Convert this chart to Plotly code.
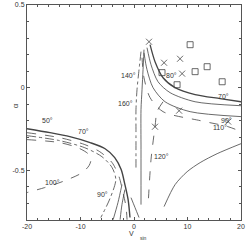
import plotly.graph_objects as go

# ---- data ----
c50_x = [-20, -15.7, -12.0, -8.2, -5.4, -3.6, -2.4, -1.7, -1.1, -0.75]
c50_y = [-0.248, -0.272, -0.296, -0.332, -0.369, -0.423, -0.495, -0.586, -0.677, -0.785]
c70_x = [-20, -13.9, -9.2, -6.4, -4.1, -2.8, -2.1, -1.5, -1.3]
c70_y = [-0.272, -0.302, -0.344, -0.387, -0.453, -0.538, -0.628, -0.719, -0.798]
c90_x = [-20, -13.9, -9.2, -6.0, -4.1, -3.4, -4.5, -6.2]
c90_y = [-0.29, -0.32, -0.363, -0.417, -0.483, -0.556, -0.671, -0.785]
c100_x = [-20, -13.9, -10.5, -8.6, -8.05, -8.4, -9.7, -12.9, -16.7, -20]
c100_y = [-0.314, -0.332, -0.363, -0.399, -0.435, -0.471, -0.514, -0.562, -0.604, -0.634]
c60_x = [-2.25, -3.0, -3.9]
c60_y = [-0.586, -0.695, -0.798]
c40_x = [-1.7, -2.25, -2.6]
c40_y = [-0.616, -0.707, -0.798]
c20_x = [-0.56, 0.19, 0.94]
c20_y = [-0.665, -0.725, -0.785]
c160_x = [1.31, 0.94, 0.56, 0.37, 0.37, 0.37]
c160_y = [0.218, 0.109, -0.012, -0.133, -0.254, -0.483]
c140_x = [1.87, 1.69, 1.5, 1.31, 1.31, 1.31]
c140_y = [0.23, 0.109, -0.012, -0.133, -0.375, -0.707]
r70_x = [3.0, 3.93, 5.43, 7.68, 11.42, 16.1, 20.04]
r70_y = [0.26, 0.157, 0.06, 0.0, -0.042, -0.066, -0.085]
r80_x = [2.43, 3.18, 4.49, 6.74, 11.42, 20.04]
r80_y = [0.242, 0.139, 0.036, -0.03, -0.085, -0.109]
r90_x = [1.87, 2.43, 3.56, 5.81, 10.49, 20.04]
r90_y = [0.211, 0.109, 0.0, -0.085, -0.145, -0.175]
r110_x = [1.5, 1.87, 3.0, 5.43, 12.36, 17.6, 20.04]
r110_y = [0.181, 0.06, -0.06, -0.145, -0.199, -0.236, -0.266]
c120_x = [5.43, 4.31, 3.93, 3.18, 2.62]
c120_y = [-0.085, -0.145, -0.236, -0.435, -0.719]
low_x = [5.62, 7.68, 9.93, 12.36, 15.54, 20.04]
low_y = [-0.719, -0.586, -0.508, -0.453, -0.399, -0.338]
cross_x = [2.81, 5.62, 8.61, 8.99, 8.43, 3.93, 17.6]
cross_y = [0.278, 0.151, 0.175, 0.085, -0.139, -0.236, -0.205]
sq_x = [10.49, 11.42, 13.67, 16.48, 5.24, 8.05]
sq_y = [0.26, 0.097, 0.127, 0.036, 0.091, 0.018]
lab_text = ["50°", "70°", "100°", "90°", "60°", "40°", "20°", "140°", "160°", "80°", "70°", "90°", "110°", "120°"]
lab_x = [-16.1, -9.4, -15.2, -5.8, -4.9, -2.6, 2.25, -0.94, -1.5, 7.1, 16.7, 17.2, 16.1, 5.06]
lab_y = [-0.2, -0.266, -0.574, -0.647, -0.822, -0.822, -0.822, 0.073, -0.097, 0.073, -0.054, -0.2, -0.242, -0.417]
x_ticks = [-20, -10, 0, 10, 20]
y_ticks = [0.5, 0, -0.5]
y_ticklabels = ["0.5", "0", "-0.5"]

C = "#444444"
fig = go.Figure()

def add(x, y, dash="solid", w=0.8):
    fig.add_trace(go.Scatter(x=x, y=y, mode="lines", line=dict(color=C, width=w, dash=dash, shape="spline", smoothing=0.8),
                             hoverinfo="skip", showlegend=False, cliponaxis=True))

add(c50_x, c50_y, "solid", 1.4)
add(c70_x, c70_y, "dash")
add(c90_x, c90_y, "dashdot")
add(c100_x, c100_y, "dash")
add(c60_x, c60_y, "solid")
add(c40_x, c40_y, "solid")
add(c20_x, c20_y, "solid")
add(c160_x, c160_y, "dashdot")
add(c140_x, c140_y, "solid")
add(r70_x, r70_y, "solid", 1.3)
add(r80_x, r80_y, "solid")
add(r90_x, r90_y, "solid")
add(r110_x, r110_y, "dash")
add(c120_x, c120_y, "dash")
add(low_x, low_y, "solid")

fig.add_trace(go.Scatter(x=cross_x, y=cross_y, mode="markers",
                         marker=dict(symbol="x-thin-open", size=6, color=C, line=dict(color=C, width=0.8)),
                         showlegend=False, hoverinfo="skip"))
fig.add_trace(go.Scatter(x=sq_x, y=sq_y, mode="markers",
                         marker=dict(symbol="square-open", size=6, color=C, line=dict(color=C, width=0.8)),
                         showlegend=False, hoverinfo="skip"))

for t, x, y in zip(lab_text, lab_x, lab_y):
    fig.add_annotation(x=x, y=y, text=t, showarrow=False, font=dict(size=7, color="#333"))

fig.add_annotation(x=0.486, y=-0.065, xref="paper", yref="paper", text="V", showarrow=False,
                   font=dict(size=7, color="#333"), yanchor="middle", borderpad=0)
fig.add_annotation(x=0.545, y=-0.084, xref="paper", yref="paper", text="sin", showarrow=False,
                   font=dict(size=5, color="#333"), yanchor="middle", borderpad=0)
fig.add_annotation(x=-0.085, y=0.53, xref="paper", yref="paper", text="α", showarrow=False, textangle=-90,
                   font=dict(size=8, color="#333"))

axis_common = dict(showline=True, linecolor="#555", linewidth=1, mirror="ticks", ticks="inside",
                   ticklen=3, tickcolor="#555", showgrid=False, zeroline=False, automargin=False,
                   tickfont=dict(size=7, color="#333", family="Liberation Sans, Arial"))
fig.update_xaxes(range=[-20, 20], tickvals=x_ticks, ticktext=[str(v) for v in x_ticks],
                 minor=dict(dtick=2, ticks="inside", ticklen=2, tickcolor="#555"), **axis_common)
fig.update_yaxes(range=[-0.8, 0.5], tickvals=y_ticks, ticktext=y_ticklabels,
                 minor=dict(dtick=0.1, tick0=0, ticks="inside", ticklen=2, tickcolor="#555"), **axis_common)

fig.update_layout(width=249, height=244, margin=dict(l=27, r=8, t=5, b=24),
                  plot_bgcolor="white", paper_bgcolor="white",
                  font=dict(family="Liberation Sans, Arial", size=7, color="#333"))
fig.write_html("out.html", config={"displayModeBar": False, "staticPlot": True},
               post_script="document.body.style.margin='0';document.body.style.overflow='hidden';")
